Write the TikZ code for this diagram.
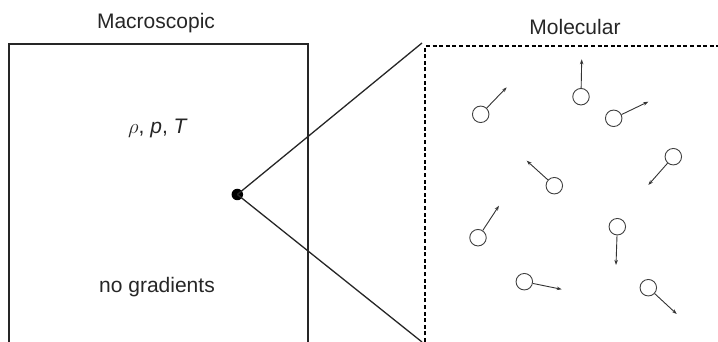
\documentclass[tikz,border=0pt]{standalone}
\usepackage{fontspec}
\setmainfont{Liberation Sans}
\usetikzlibrary{arrows.meta}
\begin{document}
\begin{tikzpicture}[x=1pt,y=-1pt,
  lbl/.style={font=\fontsize{21}{24}\selectfont, inner sep=0pt, text=black!85},
  boxline/.style={line width=1.3pt, black!85},
  mol/.style={circle, draw=black!75, line width=0.9pt, minimum size=16.5pt, inner sep=0pt},
  vel/.style={line width=0.9pt, black!80, -{Stealth[length=5pt,width=3.5pt]}},
  dot/.style={circle, fill=black, minimum size=11.5pt, inner sep=0pt}]
\useasboundingbox (0,0) rectangle (718,342);
% macroscopic box
\draw[boxline] (9,342) -- (9,44) -- (308,44) -- (308,342);
% molecular box (dashed)
\draw[line width=1.5pt, dash pattern=on 4pt off 2.6pt] (425,342) -- (425,46) -- (718,46);
\node[lbl] (macro) at (156,23) {Macroscopic};
\node[lbl] (molec) at (575,27) {Molecular};
\node[lbl] (props) at (158,128) {$\rho$, \textit{p}, \textit{T}};
\node[lbl] (nograd) at (157,287) {no gradients};
\node[dot] (pt) at (237.3,194.5) {};
\coordinate (ztop) at (422,43);
\coordinate (zbot) at (422,342);
\draw[boxline] (pt.center) -- (ztop);
\draw[boxline] (pt.center) -- (zbot);
% molecules
\node[mol] (m1) at (480.7,114.3) {};
\node[mol] (m2) at (581,96.7) {};
\node[mol] (m3) at (613.7,118.3) {};
\node[mol] (m4) at (673.3,156.7) {};
\node[mol] (m5) at (554.3,185.7) {};
\node[mol] (m6) at (478,237.7) {};
\node[mol] (m7) at (617.3,226.7) {};
\node[mol] (m8) at (524.3,281.7) {};
\node[mol] (m9) at (648.3,287.7) {};
\coordinate (v1) at (506.7,87.3);
\coordinate (v2) at (581.7,59.3);
\coordinate (v3) at (648.3,101.7);
\coordinate (v4) at (648.3,185);
\coordinate (v5) at (526.7,160.7);
\coordinate (v6) at (499,205.7);
\coordinate (v7) at (616,265);
\coordinate (v8) at (561.7,289.3);
\coordinate (v9) at (676.7,314);
\foreach \i in {1,...,9}{\draw[vel] (m\i) -- (v\i);}
\end{tikzpicture}
\end{document}
